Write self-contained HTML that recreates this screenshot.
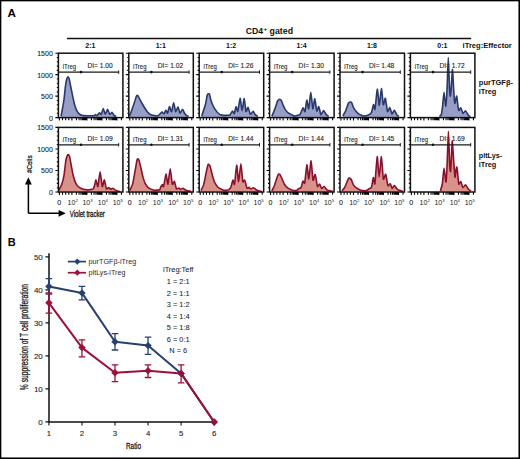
<!DOCTYPE html>
<html><head><meta charset="utf-8"><style>
html,body{margin:0;padding:0;background:#fff;width:520px;height:459px;overflow:hidden}
svg text{font-family:"Liberation Sans", sans-serif}
</style></head><body>
<svg width="520" height="459" viewBox="0 0 520 459" style="display:block" font-family='"Liberation Sans", sans-serif'>
<rect x="0" y="0" width="520" height="459" fill="#000"/>
<rect x="1.35" y="1.35" width="517.1" height="456.1" fill="#fff"/>
<text x="7.4" y="17.0" font-size="11.6" font-weight="bold" fill="#000">A</text>
<text x="7.7" y="246.4" font-size="11.0" font-weight="bold" fill="#000">B</text>
<text x="245.8" y="33.9" font-size="8.6" font-weight="bold" textLength="17.4" lengthAdjust="spacingAndGlyphs" fill="#111">CD4</text>
<text x="263.5" y="31.4" font-size="6.2" font-weight="bold" fill="#111">+</text>
<text x="269.6" y="33.9" font-size="8.6" font-weight="bold" textLength="23.4" lengthAdjust="spacingAndGlyphs" fill="#111">gated</text>
<line x1="67" y1="38.5" x2="471.2" y2="38.5" stroke="#111" stroke-width="1.3"/>
<text x="90.35" y="48.3" font-size="7.0" font-weight="bold" text-anchor="middle" fill="#111">2:1</text>
<text x="160.75" y="48.3" font-size="7.0" font-weight="bold" text-anchor="middle" fill="#111">1:1</text>
<text x="231.15" y="48.3" font-size="7.0" font-weight="bold" text-anchor="middle" fill="#111">1:2</text>
<text x="301.55" y="48.3" font-size="7.0" font-weight="bold" text-anchor="middle" fill="#111">1:4</text>
<text x="371.95" y="48.3" font-size="7.0" font-weight="bold" text-anchor="middle" fill="#111">1:8</text>
<text x="442.35" y="48.3" font-size="7.0" font-weight="bold" text-anchor="middle" fill="#111">0:1</text>
<text x="462.6" y="48.2" font-size="7.0" font-weight="bold" textLength="49.2" lengthAdjust="spacingAndGlyphs" fill="#111">iTreg:Effector</text>
<text x="478.8" y="84.5" font-size="7.2" font-weight="bold" textLength="34.2" lengthAdjust="spacingAndGlyphs" fill="#111">purTGFβ-</text>
<text x="478.8" y="94.1" font-size="7.2" font-weight="bold" textLength="17.5" lengthAdjust="spacingAndGlyphs" fill="#111">iTreg</text>
<text x="478.8" y="157.6" font-size="7.2" font-weight="bold" textLength="23.4" lengthAdjust="spacingAndGlyphs" fill="#111">pltLys-</text>
<text x="478.8" y="167.0" font-size="7.2" font-weight="bold" textLength="17.5" lengthAdjust="spacingAndGlyphs" fill="#111">iTreg</text>
<text x="62.7" y="68.6" font-size="6.3" textLength="13.4" lengthAdjust="spacingAndGlyphs" fill="#222" stroke="#222" stroke-width="0.1">iTreg</text>
<text x="87.4" y="68.3" font-size="6.3" textLength="25.3" lengthAdjust="spacingAndGlyphs" fill="#222" stroke="#222" stroke-width="0.1">DI= 1.00</text>
<path d="M61.00,116.40 C61.15,115.61 62.20,110.19 62.50,108.50 C62.80,106.81 63.71,101.70 64.00,99.50 C64.29,97.30 65.14,88.50 65.40,86.50 C65.66,84.50 66.35,80.46 66.60,79.50 C66.85,78.54 67.66,77.02 67.90,76.90 C68.14,76.78 68.73,77.39 69.00,78.30 C69.27,79.21 70.22,84.15 70.60,86.00 C70.98,87.85 72.36,94.80 72.80,96.80 C73.24,98.80 74.53,104.50 75.00,106.00 C75.47,107.50 76.95,110.92 77.50,111.80 C78.05,112.68 79.85,114.42 80.50,114.80 C81.15,115.18 82.63,115.52 84.00,115.60 C85.37,115.68 93.05,115.71 94.20,115.60 C95.35,115.49 95.21,114.50 95.50,114.50 C95.79,114.50 96.70,115.78 97.10,115.60 C97.50,115.42 99.09,112.81 99.50,112.70 C99.91,112.59 100.82,114.91 101.20,114.50 C101.58,114.09 102.90,108.62 103.30,108.60 C103.70,108.58 104.77,114.22 105.20,114.30 C105.63,114.38 107.14,109.40 107.60,109.40 C108.06,109.40 109.34,114.00 109.80,114.30 C110.26,114.60 111.77,112.27 112.20,112.40 C112.63,112.53 113.70,115.20 114.10,115.60 C114.50,116.00 115.99,116.32 116.20,116.40 L116.20,117.0 L61.00,117.0 Z" fill="#999ec6" stroke="none"/>
<path d="M61.00,116.40 C61.15,115.61 62.20,110.19 62.50,108.50 C62.80,106.81 63.71,101.70 64.00,99.50 C64.29,97.30 65.14,88.50 65.40,86.50 C65.66,84.50 66.35,80.46 66.60,79.50 C66.85,78.54 67.66,77.02 67.90,76.90 C68.14,76.78 68.73,77.39 69.00,78.30 C69.27,79.21 70.22,84.15 70.60,86.00 C70.98,87.85 72.36,94.80 72.80,96.80 C73.24,98.80 74.53,104.50 75.00,106.00 C75.47,107.50 76.95,110.92 77.50,111.80 C78.05,112.68 79.85,114.42 80.50,114.80 C81.15,115.18 82.63,115.52 84.00,115.60 C85.37,115.68 93.05,115.71 94.20,115.60 C95.35,115.49 95.21,114.50 95.50,114.50 C95.79,114.50 96.70,115.78 97.10,115.60 C97.50,115.42 99.09,112.81 99.50,112.70 C99.91,112.59 100.82,114.91 101.20,114.50 C101.58,114.09 102.90,108.62 103.30,108.60 C103.70,108.58 104.77,114.22 105.20,114.30 C105.63,114.38 107.14,109.40 107.60,109.40 C108.06,109.40 109.34,114.00 109.80,114.30 C110.26,114.60 111.77,112.27 112.20,112.40 C112.63,112.53 113.70,115.20 114.10,115.60 C114.50,116.00 115.99,116.32 116.20,116.40" fill="none" stroke="#28396a" stroke-width="1.6" stroke-linejoin="round"/>
<path d="M55.40,117.60H58.40 M56.80,113.31H58.40 M56.80,109.01H58.40 M56.80,104.72H58.40 M56.80,100.43H58.40 M55.40,96.13H58.40 M56.80,91.84H58.40 M56.80,87.55H58.40 M56.80,83.25H58.40 M56.80,78.96H58.40 M55.40,74.67H58.40 M56.80,70.37H58.40 M56.80,66.08H58.40 M56.80,61.79H58.40 M56.80,57.49H58.40 M55.40,53.20H58.40 M59.40,117.60V120.60 M71.90,117.60V120.60 M86.90,117.60V120.60 M101.90,117.60V120.60 M116.90,117.60V120.60 M62.52,117.60V120.30 M65.65,117.60V120.30 M68.78,117.60V120.30 M76.42,117.60V120.30 M79.06,117.60V120.30 M80.93,117.60V120.30 M82.38,117.60V120.30 M83.57,117.60V120.30 M84.58,117.60V120.30 M85.45,117.60V120.30 M86.21,117.60V120.30 M91.42,117.60V120.30 M94.06,117.60V120.30 M95.93,117.60V120.30 M97.38,117.60V120.30 M98.57,117.60V120.30 M99.58,117.60V120.30 M100.45,117.60V120.30 M101.21,117.60V120.30 M106.42,117.60V120.30 M109.06,117.60V120.30 M110.93,117.60V120.30 M112.38,117.60V120.30 M113.57,117.60V120.30 M114.58,117.60V120.30 M115.45,117.60V120.30 M116.21,117.60V120.30 M121.42,117.60V120.30" stroke="#000" stroke-width="1.1" fill="none"/>
<rect x="58.40" y="53.20" width="64.5" height="64.40" fill="none" stroke="#111" stroke-width="1.5"/>
<line x1="58.40" y1="72.1" x2="118.70" y2="72.1" stroke="#1a1a1a" stroke-width="1.25"/>
<line x1="118.70" y1="70.39999999999999" x2="118.70" y2="73.8" stroke="#1a1a1a" stroke-width="1.0"/>
<circle cx="81.00" cy="72.1" r="1.3" fill="#111"/>
<text x="133.1" y="68.6" font-size="6.3" textLength="13.4" lengthAdjust="spacingAndGlyphs" fill="#222" stroke="#222" stroke-width="0.1">iTreg</text>
<text x="157.8" y="68.3" font-size="6.3" textLength="25.3" lengthAdjust="spacingAndGlyphs" fill="#222" stroke="#222" stroke-width="0.1">DI= 1.02</text>
<path d="M129.60,116.00 C129.68,115.78 129.98,114.97 130.40,113.80 C130.82,112.63 133.20,106.06 133.80,104.30 C134.40,102.54 136.06,97.11 136.40,96.20 C136.74,95.29 137.02,95.20 137.20,95.20 C137.38,95.20 137.77,95.47 138.20,96.20 C138.63,96.93 140.75,101.17 141.50,102.50 C142.25,103.83 145.00,108.43 145.70,109.50 C146.40,110.57 147.83,112.62 148.50,113.20 C149.17,113.78 151.41,115.07 152.40,115.30 C153.39,115.53 157.57,115.71 158.40,115.50 C159.23,115.29 160.31,113.54 160.70,113.20 C161.09,112.86 161.98,112.04 162.30,112.10 C162.62,112.16 163.53,113.98 163.90,113.80 C164.27,113.62 165.64,110.36 166.00,110.30 C166.36,110.24 167.15,113.57 167.50,113.20 C167.85,112.83 169.10,106.76 169.50,106.60 C169.90,106.44 171.08,111.99 171.50,111.60 C171.92,111.21 173.29,102.70 173.70,102.70 C174.11,102.70 175.17,111.18 175.60,111.60 C176.03,112.02 177.56,106.74 178.00,106.90 C178.44,107.06 179.54,112.97 180.00,113.20 C180.46,113.43 182.15,109.20 182.60,109.20 C183.05,109.20 184.07,112.54 184.50,113.20 C184.93,113.86 186.50,115.50 186.90,115.80 C187.30,116.10 188.34,116.16 188.50,116.20 L188.50,117.0 L129.60,117.0 Z" fill="#999ec6" stroke="none"/>
<path d="M129.60,116.00 C129.68,115.78 129.98,114.97 130.40,113.80 C130.82,112.63 133.20,106.06 133.80,104.30 C134.40,102.54 136.06,97.11 136.40,96.20 C136.74,95.29 137.02,95.20 137.20,95.20 C137.38,95.20 137.77,95.47 138.20,96.20 C138.63,96.93 140.75,101.17 141.50,102.50 C142.25,103.83 145.00,108.43 145.70,109.50 C146.40,110.57 147.83,112.62 148.50,113.20 C149.17,113.78 151.41,115.07 152.40,115.30 C153.39,115.53 157.57,115.71 158.40,115.50 C159.23,115.29 160.31,113.54 160.70,113.20 C161.09,112.86 161.98,112.04 162.30,112.10 C162.62,112.16 163.53,113.98 163.90,113.80 C164.27,113.62 165.64,110.36 166.00,110.30 C166.36,110.24 167.15,113.57 167.50,113.20 C167.85,112.83 169.10,106.76 169.50,106.60 C169.90,106.44 171.08,111.99 171.50,111.60 C171.92,111.21 173.29,102.70 173.70,102.70 C174.11,102.70 175.17,111.18 175.60,111.60 C176.03,112.02 177.56,106.74 178.00,106.90 C178.44,107.06 179.54,112.97 180.00,113.20 C180.46,113.43 182.15,109.20 182.60,109.20 C183.05,109.20 184.07,112.54 184.50,113.20 C184.93,113.86 186.50,115.50 186.90,115.80 C187.30,116.10 188.34,116.16 188.50,116.20" fill="none" stroke="#28396a" stroke-width="1.6" stroke-linejoin="round"/>
<path d="M125.80,117.60H128.80 M127.20,113.31H128.80 M127.20,109.01H128.80 M127.20,104.72H128.80 M127.20,100.43H128.80 M125.80,96.13H128.80 M127.20,91.84H128.80 M127.20,87.55H128.80 M127.20,83.25H128.80 M127.20,78.96H128.80 M125.80,74.67H128.80 M127.20,70.37H128.80 M127.20,66.08H128.80 M127.20,61.79H128.80 M127.20,57.49H128.80 M125.80,53.20H128.80 M129.80,117.60V120.60 M142.30,117.60V120.60 M157.30,117.60V120.60 M172.30,117.60V120.60 M187.30,117.60V120.60 M132.93,117.60V120.30 M136.05,117.60V120.30 M139.18,117.60V120.30 M146.82,117.60V120.30 M149.46,117.60V120.30 M151.33,117.60V120.30 M152.78,117.60V120.30 M153.97,117.60V120.30 M154.98,117.60V120.30 M155.85,117.60V120.30 M156.61,117.60V120.30 M161.82,117.60V120.30 M164.46,117.60V120.30 M166.33,117.60V120.30 M167.78,117.60V120.30 M168.97,117.60V120.30 M169.98,117.60V120.30 M170.85,117.60V120.30 M171.61,117.60V120.30 M176.82,117.60V120.30 M179.46,117.60V120.30 M181.33,117.60V120.30 M182.78,117.60V120.30 M183.97,117.60V120.30 M184.98,117.60V120.30 M185.85,117.60V120.30 M186.61,117.60V120.30 M191.82,117.60V120.30" stroke="#000" stroke-width="1.1" fill="none"/>
<rect x="128.80" y="53.20" width="64.5" height="64.40" fill="none" stroke="#111" stroke-width="1.5"/>
<line x1="128.80" y1="72.1" x2="189.10" y2="72.1" stroke="#1a1a1a" stroke-width="1.25"/>
<line x1="189.10" y1="70.39999999999999" x2="189.10" y2="73.8" stroke="#1a1a1a" stroke-width="1.0"/>
<circle cx="151.40" cy="72.1" r="1.3" fill="#111"/>
<text x="203.5" y="68.6" font-size="6.3" textLength="13.4" lengthAdjust="spacingAndGlyphs" fill="#222" stroke="#222" stroke-width="0.1">iTreg</text>
<text x="228.2" y="68.3" font-size="6.3" textLength="25.3" lengthAdjust="spacingAndGlyphs" fill="#222" stroke="#222" stroke-width="0.1">DI= 1.26</text>
<path d="M201.60,116.20 C201.63,116.13 201.51,116.69 201.90,115.50 C202.29,114.31 204.97,106.33 205.50,104.30 C206.03,102.27 206.93,96.25 207.20,95.20 C207.47,94.15 207.97,93.90 208.20,93.80 C208.43,93.70 209.24,93.60 209.50,94.20 C209.76,94.80 210.48,98.72 210.80,99.80 C211.12,100.88 212.25,104.02 212.70,105.00 C213.15,105.98 214.71,108.75 215.30,109.60 C215.89,110.45 217.94,112.95 218.60,113.50 C219.26,114.05 220.98,114.92 221.90,115.10 C222.82,115.28 226.99,115.32 227.80,115.30 C228.61,115.28 229.53,115.33 230.00,114.90 C230.47,114.47 232.07,111.14 232.50,111.00 C232.93,110.86 233.95,113.93 234.30,113.50 C234.65,113.07 235.65,106.91 236.00,106.70 C236.35,106.49 237.39,112.25 237.80,111.40 C238.21,110.55 239.67,98.28 240.10,98.20 C240.53,98.12 241.69,110.57 242.10,110.60 C242.51,110.63 243.81,98.42 244.20,98.50 C244.59,98.58 245.61,110.51 246.00,111.40 C246.39,112.29 247.67,107.12 248.10,107.40 C248.53,107.68 249.80,113.80 250.30,114.20 C250.80,114.60 252.61,111.36 253.10,111.40 C253.59,111.44 254.74,114.11 255.20,114.60 C255.66,115.09 257.45,116.13 257.70,116.30 L257.70,117.0 L201.60,117.0 Z" fill="#999ec6" stroke="none"/>
<path d="M201.60,116.20 C201.63,116.13 201.51,116.69 201.90,115.50 C202.29,114.31 204.97,106.33 205.50,104.30 C206.03,102.27 206.93,96.25 207.20,95.20 C207.47,94.15 207.97,93.90 208.20,93.80 C208.43,93.70 209.24,93.60 209.50,94.20 C209.76,94.80 210.48,98.72 210.80,99.80 C211.12,100.88 212.25,104.02 212.70,105.00 C213.15,105.98 214.71,108.75 215.30,109.60 C215.89,110.45 217.94,112.95 218.60,113.50 C219.26,114.05 220.98,114.92 221.90,115.10 C222.82,115.28 226.99,115.32 227.80,115.30 C228.61,115.28 229.53,115.33 230.00,114.90 C230.47,114.47 232.07,111.14 232.50,111.00 C232.93,110.86 233.95,113.93 234.30,113.50 C234.65,113.07 235.65,106.91 236.00,106.70 C236.35,106.49 237.39,112.25 237.80,111.40 C238.21,110.55 239.67,98.28 240.10,98.20 C240.53,98.12 241.69,110.57 242.10,110.60 C242.51,110.63 243.81,98.42 244.20,98.50 C244.59,98.58 245.61,110.51 246.00,111.40 C246.39,112.29 247.67,107.12 248.10,107.40 C248.53,107.68 249.80,113.80 250.30,114.20 C250.80,114.60 252.61,111.36 253.10,111.40 C253.59,111.44 254.74,114.11 255.20,114.60 C255.66,115.09 257.45,116.13 257.70,116.30" fill="none" stroke="#28396a" stroke-width="1.6" stroke-linejoin="round"/>
<path d="M196.20,117.60H199.20 M197.60,113.31H199.20 M197.60,109.01H199.20 M197.60,104.72H199.20 M197.60,100.43H199.20 M196.20,96.13H199.20 M197.60,91.84H199.20 M197.60,87.55H199.20 M197.60,83.25H199.20 M197.60,78.96H199.20 M196.20,74.67H199.20 M197.60,70.37H199.20 M197.60,66.08H199.20 M197.60,61.79H199.20 M197.60,57.49H199.20 M196.20,53.20H199.20 M200.20,117.60V120.60 M212.70,117.60V120.60 M227.70,117.60V120.60 M242.70,117.60V120.60 M257.70,117.60V120.60 M203.33,117.60V120.30 M206.45,117.60V120.30 M209.58,117.60V120.30 M217.22,117.60V120.30 M219.86,117.60V120.30 M221.73,117.60V120.30 M223.18,117.60V120.30 M224.37,117.60V120.30 M225.38,117.60V120.30 M226.25,117.60V120.30 M227.01,117.60V120.30 M232.22,117.60V120.30 M234.86,117.60V120.30 M236.73,117.60V120.30 M238.18,117.60V120.30 M239.37,117.60V120.30 M240.38,117.60V120.30 M241.25,117.60V120.30 M242.01,117.60V120.30 M247.22,117.60V120.30 M249.86,117.60V120.30 M251.73,117.60V120.30 M253.18,117.60V120.30 M254.37,117.60V120.30 M255.38,117.60V120.30 M256.25,117.60V120.30 M257.01,117.60V120.30 M262.22,117.60V120.30" stroke="#000" stroke-width="1.1" fill="none"/>
<rect x="199.20" y="53.20" width="64.5" height="64.40" fill="none" stroke="#111" stroke-width="1.5"/>
<line x1="199.20" y1="72.1" x2="259.50" y2="72.1" stroke="#1a1a1a" stroke-width="1.25"/>
<line x1="259.50" y1="70.39999999999999" x2="259.50" y2="73.8" stroke="#1a1a1a" stroke-width="1.0"/>
<circle cx="221.80" cy="72.1" r="1.3" fill="#111"/>
<text x="273.9" y="68.6" font-size="6.3" textLength="13.4" lengthAdjust="spacingAndGlyphs" fill="#222" stroke="#222" stroke-width="0.1">iTreg</text>
<text x="298.6" y="68.3" font-size="6.3" textLength="25.3" lengthAdjust="spacingAndGlyphs" fill="#222" stroke="#222" stroke-width="0.1">DI= 1.30</text>
<path d="M271.90,116.20 C272.20,115.47 274.34,110.41 274.90,108.90 C275.46,107.39 277.07,102.05 277.50,101.10 C277.93,100.15 278.93,99.57 279.20,99.40 C279.47,99.23 279.98,99.27 280.20,99.40 C280.42,99.53 281.11,100.14 281.40,100.70 C281.69,101.26 282.71,104.11 283.10,105.00 C283.49,105.89 284.75,108.78 285.30,109.60 C285.85,110.42 287.88,112.65 288.60,113.20 C289.32,113.75 291.94,114.82 292.50,115.10 C293.06,115.38 293.65,115.98 294.20,116.00 C294.75,116.02 297.40,115.48 298.00,115.30 C298.60,115.12 299.70,114.94 300.20,114.20 C300.70,113.46 302.52,108.16 303.00,107.90 C303.48,107.64 304.62,112.37 305.00,111.60 C305.38,110.83 306.43,100.49 306.80,100.20 C307.17,99.91 308.30,109.48 308.70,108.70 C309.10,107.92 310.39,92.40 310.80,92.40 C311.21,92.40 312.40,108.07 312.80,108.70 C313.20,109.33 314.40,98.48 314.80,98.70 C315.20,98.92 316.40,110.12 316.80,110.90 C317.20,111.68 318.39,106.13 318.80,106.50 C319.21,106.87 320.41,114.20 320.90,114.60 C321.39,115.00 323.18,110.50 323.70,110.50 C324.22,110.50 325.60,114.02 326.10,114.60 C326.60,115.18 328.44,116.13 328.70,116.30 L328.70,117.0 L271.90,117.0 Z" fill="#999ec6" stroke="none"/>
<path d="M271.90,116.20 C272.20,115.47 274.34,110.41 274.90,108.90 C275.46,107.39 277.07,102.05 277.50,101.10 C277.93,100.15 278.93,99.57 279.20,99.40 C279.47,99.23 279.98,99.27 280.20,99.40 C280.42,99.53 281.11,100.14 281.40,100.70 C281.69,101.26 282.71,104.11 283.10,105.00 C283.49,105.89 284.75,108.78 285.30,109.60 C285.85,110.42 287.88,112.65 288.60,113.20 C289.32,113.75 291.94,114.82 292.50,115.10 C293.06,115.38 293.65,115.98 294.20,116.00 C294.75,116.02 297.40,115.48 298.00,115.30 C298.60,115.12 299.70,114.94 300.20,114.20 C300.70,113.46 302.52,108.16 303.00,107.90 C303.48,107.64 304.62,112.37 305.00,111.60 C305.38,110.83 306.43,100.49 306.80,100.20 C307.17,99.91 308.30,109.48 308.70,108.70 C309.10,107.92 310.39,92.40 310.80,92.40 C311.21,92.40 312.40,108.07 312.80,108.70 C313.20,109.33 314.40,98.48 314.80,98.70 C315.20,98.92 316.40,110.12 316.80,110.90 C317.20,111.68 318.39,106.13 318.80,106.50 C319.21,106.87 320.41,114.20 320.90,114.60 C321.39,115.00 323.18,110.50 323.70,110.50 C324.22,110.50 325.60,114.02 326.10,114.60 C326.60,115.18 328.44,116.13 328.70,116.30" fill="none" stroke="#28396a" stroke-width="1.6" stroke-linejoin="round"/>
<path d="M266.60,117.60H269.60 M268.00,113.31H269.60 M268.00,109.01H269.60 M268.00,104.72H269.60 M268.00,100.43H269.60 M266.60,96.13H269.60 M268.00,91.84H269.60 M268.00,87.55H269.60 M268.00,83.25H269.60 M268.00,78.96H269.60 M266.60,74.67H269.60 M268.00,70.37H269.60 M268.00,66.08H269.60 M268.00,61.79H269.60 M268.00,57.49H269.60 M266.60,53.20H269.60 M270.60,117.60V120.60 M283.10,117.60V120.60 M298.10,117.60V120.60 M313.10,117.60V120.60 M328.10,117.60V120.60 M273.73,117.60V120.30 M276.85,117.60V120.30 M279.98,117.60V120.30 M287.62,117.60V120.30 M290.26,117.60V120.30 M292.13,117.60V120.30 M293.58,117.60V120.30 M294.77,117.60V120.30 M295.78,117.60V120.30 M296.65,117.60V120.30 M297.41,117.60V120.30 M302.62,117.60V120.30 M305.26,117.60V120.30 M307.13,117.60V120.30 M308.58,117.60V120.30 M309.77,117.60V120.30 M310.78,117.60V120.30 M311.65,117.60V120.30 M312.41,117.60V120.30 M317.62,117.60V120.30 M320.26,117.60V120.30 M322.13,117.60V120.30 M323.58,117.60V120.30 M324.77,117.60V120.30 M325.78,117.60V120.30 M326.65,117.60V120.30 M327.41,117.60V120.30 M332.62,117.60V120.30" stroke="#000" stroke-width="1.1" fill="none"/>
<rect x="269.60" y="53.20" width="64.5" height="64.40" fill="none" stroke="#111" stroke-width="1.5"/>
<line x1="269.60" y1="72.1" x2="329.90" y2="72.1" stroke="#1a1a1a" stroke-width="1.25"/>
<line x1="329.90" y1="70.39999999999999" x2="329.90" y2="73.8" stroke="#1a1a1a" stroke-width="1.0"/>
<circle cx="292.20" cy="72.1" r="1.3" fill="#111"/>
<text x="344.3" y="68.6" font-size="6.3" textLength="13.4" lengthAdjust="spacingAndGlyphs" fill="#222" stroke="#222" stroke-width="0.1">iTreg</text>
<text x="369.0" y="68.3" font-size="6.3" textLength="25.3" lengthAdjust="spacingAndGlyphs" fill="#222" stroke="#222" stroke-width="0.1">DI= 1.48</text>
<path d="M342.90,116.00 C343.20,115.42 345.37,111.43 345.90,110.20 C346.43,108.97 347.83,104.51 348.20,103.70 C348.57,102.89 349.36,102.26 349.60,102.10 C349.84,101.94 350.38,102.01 350.60,102.10 C350.82,102.19 351.52,102.48 351.80,103.00 C352.08,103.52 352.98,106.48 353.40,107.30 C353.82,108.12 355.44,110.52 356.00,111.20 C356.56,111.88 358.38,113.67 359.00,114.10 C359.62,114.53 361.75,115.31 362.20,115.50 C362.65,115.69 362.88,116.06 363.50,116.00 C364.12,115.94 367.61,115.23 368.40,114.90 C369.19,114.57 370.89,113.72 371.40,112.70 C371.91,111.68 373.14,105.04 373.50,104.70 C373.86,104.36 374.62,110.85 375.00,109.30 C375.38,107.75 376.87,89.58 377.30,89.20 C377.73,88.82 378.89,105.57 379.30,105.50 C379.71,105.43 381.00,88.58 381.40,88.50 C381.80,88.42 382.90,103.72 383.30,104.70 C383.70,105.68 384.98,97.62 385.40,98.30 C385.82,98.98 387.06,110.57 387.50,111.50 C387.94,112.43 389.35,107.35 389.80,107.60 C390.25,107.85 391.55,113.72 392.00,114.00 C392.45,114.28 393.81,110.31 394.30,110.40 C394.79,110.49 396.43,114.31 396.90,114.90 C397.37,115.49 398.79,116.16 399.00,116.30 L399.00,117.0 L342.90,117.0 Z" fill="#999ec6" stroke="none"/>
<path d="M342.90,116.00 C343.20,115.42 345.37,111.43 345.90,110.20 C346.43,108.97 347.83,104.51 348.20,103.70 C348.57,102.89 349.36,102.26 349.60,102.10 C349.84,101.94 350.38,102.01 350.60,102.10 C350.82,102.19 351.52,102.48 351.80,103.00 C352.08,103.52 352.98,106.48 353.40,107.30 C353.82,108.12 355.44,110.52 356.00,111.20 C356.56,111.88 358.38,113.67 359.00,114.10 C359.62,114.53 361.75,115.31 362.20,115.50 C362.65,115.69 362.88,116.06 363.50,116.00 C364.12,115.94 367.61,115.23 368.40,114.90 C369.19,114.57 370.89,113.72 371.40,112.70 C371.91,111.68 373.14,105.04 373.50,104.70 C373.86,104.36 374.62,110.85 375.00,109.30 C375.38,107.75 376.87,89.58 377.30,89.20 C377.73,88.82 378.89,105.57 379.30,105.50 C379.71,105.43 381.00,88.58 381.40,88.50 C381.80,88.42 382.90,103.72 383.30,104.70 C383.70,105.68 384.98,97.62 385.40,98.30 C385.82,98.98 387.06,110.57 387.50,111.50 C387.94,112.43 389.35,107.35 389.80,107.60 C390.25,107.85 391.55,113.72 392.00,114.00 C392.45,114.28 393.81,110.31 394.30,110.40 C394.79,110.49 396.43,114.31 396.90,114.90 C397.37,115.49 398.79,116.16 399.00,116.30" fill="none" stroke="#28396a" stroke-width="1.6" stroke-linejoin="round"/>
<path d="M337.00,117.60H340.00 M338.40,113.31H340.00 M338.40,109.01H340.00 M338.40,104.72H340.00 M338.40,100.43H340.00 M337.00,96.13H340.00 M338.40,91.84H340.00 M338.40,87.55H340.00 M338.40,83.25H340.00 M338.40,78.96H340.00 M337.00,74.67H340.00 M338.40,70.37H340.00 M338.40,66.08H340.00 M338.40,61.79H340.00 M338.40,57.49H340.00 M337.00,53.20H340.00 M341.00,117.60V120.60 M353.50,117.60V120.60 M368.50,117.60V120.60 M383.50,117.60V120.60 M398.50,117.60V120.60 M344.12,117.60V120.30 M347.25,117.60V120.30 M350.38,117.60V120.30 M358.02,117.60V120.30 M360.66,117.60V120.30 M362.53,117.60V120.30 M363.98,117.60V120.30 M365.17,117.60V120.30 M366.18,117.60V120.30 M367.05,117.60V120.30 M367.81,117.60V120.30 M373.02,117.60V120.30 M375.66,117.60V120.30 M377.53,117.60V120.30 M378.98,117.60V120.30 M380.17,117.60V120.30 M381.18,117.60V120.30 M382.05,117.60V120.30 M382.81,117.60V120.30 M388.02,117.60V120.30 M390.66,117.60V120.30 M392.53,117.60V120.30 M393.98,117.60V120.30 M395.17,117.60V120.30 M396.18,117.60V120.30 M397.05,117.60V120.30 M397.81,117.60V120.30 M403.02,117.60V120.30" stroke="#000" stroke-width="1.1" fill="none"/>
<rect x="340.00" y="53.20" width="64.5" height="64.40" fill="none" stroke="#111" stroke-width="1.5"/>
<line x1="340.00" y1="72.1" x2="400.30" y2="72.1" stroke="#1a1a1a" stroke-width="1.25"/>
<line x1="400.30" y1="70.39999999999999" x2="400.30" y2="73.8" stroke="#1a1a1a" stroke-width="1.0"/>
<circle cx="362.60" cy="72.1" r="1.3" fill="#111"/>
<text x="414.7" y="68.6" font-size="6.3" textLength="13.4" lengthAdjust="spacingAndGlyphs" fill="#222" stroke="#222" stroke-width="0.1">iTreg</text>
<text x="439.4" y="68.3" font-size="6.3" textLength="25.3" lengthAdjust="spacingAndGlyphs" fill="#222" stroke="#222" stroke-width="0.1">DI= 1.72</text>
<path d="M439.50,116.60 C439.70,116.34 441.19,115.06 441.50,114.00 C441.81,112.94 442.35,108.18 442.60,106.00 C442.85,103.82 443.68,92.18 444.00,92.20 C444.32,92.22 445.50,106.42 445.80,106.20 C446.10,105.98 446.75,94.87 447.00,90.00 C447.25,85.13 448.04,57.50 448.30,57.50 C448.56,57.50 449.39,86.14 449.60,90.00 C449.81,93.86 450.22,96.60 450.40,96.10 C450.58,95.60 451.19,87.66 451.40,85.00 C451.61,82.34 452.28,69.20 452.50,69.50 C452.72,69.80 453.38,84.64 453.60,88.00 C453.82,91.36 454.49,101.90 454.70,103.10 C454.91,104.30 455.50,100.70 455.70,100.00 C455.90,99.30 456.50,95.70 456.70,96.10 C456.90,96.50 457.50,102.56 457.70,104.00 C457.90,105.44 458.39,110.11 458.70,110.50 C459.01,110.89 460.37,107.59 460.80,107.90 C461.23,108.21 462.53,113.32 463.00,113.60 C463.47,113.88 464.97,110.53 465.50,110.70 C466.03,110.87 467.81,114.71 468.30,115.30 C468.79,115.89 470.19,116.47 470.40,116.60 L470.40,117.0 L439.50,117.0 Z" fill="#999ec6" stroke="none"/>
<path d="M439.50,116.60 C439.70,116.34 441.19,115.06 441.50,114.00 C441.81,112.94 442.35,108.18 442.60,106.00 C442.85,103.82 443.68,92.18 444.00,92.20 C444.32,92.22 445.50,106.42 445.80,106.20 C446.10,105.98 446.75,94.87 447.00,90.00 C447.25,85.13 448.04,57.50 448.30,57.50 C448.56,57.50 449.39,86.14 449.60,90.00 C449.81,93.86 450.22,96.60 450.40,96.10 C450.58,95.60 451.19,87.66 451.40,85.00 C451.61,82.34 452.28,69.20 452.50,69.50 C452.72,69.80 453.38,84.64 453.60,88.00 C453.82,91.36 454.49,101.90 454.70,103.10 C454.91,104.30 455.50,100.70 455.70,100.00 C455.90,99.30 456.50,95.70 456.70,96.10 C456.90,96.50 457.50,102.56 457.70,104.00 C457.90,105.44 458.39,110.11 458.70,110.50 C459.01,110.89 460.37,107.59 460.80,107.90 C461.23,108.21 462.53,113.32 463.00,113.60 C463.47,113.88 464.97,110.53 465.50,110.70 C466.03,110.87 467.81,114.71 468.30,115.30 C468.79,115.89 470.19,116.47 470.40,116.60" fill="none" stroke="#28396a" stroke-width="1.6" stroke-linejoin="round"/>
<path d="M407.40,117.60H410.40 M408.80,113.31H410.40 M408.80,109.01H410.40 M408.80,104.72H410.40 M408.80,100.43H410.40 M407.40,96.13H410.40 M408.80,91.84H410.40 M408.80,87.55H410.40 M408.80,83.25H410.40 M408.80,78.96H410.40 M407.40,74.67H410.40 M408.80,70.37H410.40 M408.80,66.08H410.40 M408.80,61.79H410.40 M408.80,57.49H410.40 M407.40,53.20H410.40 M411.40,117.60V120.60 M423.90,117.60V120.60 M438.90,117.60V120.60 M453.90,117.60V120.60 M468.90,117.60V120.60 M414.52,117.60V120.30 M417.65,117.60V120.30 M420.77,117.60V120.30 M428.42,117.60V120.30 M431.06,117.60V120.30 M432.93,117.60V120.30 M434.38,117.60V120.30 M435.57,117.60V120.30 M436.58,117.60V120.30 M437.45,117.60V120.30 M438.21,117.60V120.30 M443.42,117.60V120.30 M446.06,117.60V120.30 M447.93,117.60V120.30 M449.38,117.60V120.30 M450.57,117.60V120.30 M451.58,117.60V120.30 M452.45,117.60V120.30 M453.21,117.60V120.30 M458.42,117.60V120.30 M461.06,117.60V120.30 M462.93,117.60V120.30 M464.38,117.60V120.30 M465.57,117.60V120.30 M466.58,117.60V120.30 M467.45,117.60V120.30 M468.21,117.60V120.30 M473.42,117.60V120.30" stroke="#000" stroke-width="1.1" fill="none"/>
<rect x="410.40" y="53.20" width="64.5" height="64.40" fill="none" stroke="#111" stroke-width="1.5"/>
<line x1="410.40" y1="72.1" x2="470.70" y2="72.1" stroke="#1a1a1a" stroke-width="1.25"/>
<line x1="470.70" y1="70.39999999999999" x2="470.70" y2="73.8" stroke="#1a1a1a" stroke-width="1.0"/>
<circle cx="433.00" cy="72.1" r="1.3" fill="#111"/>
<text x="62.7" y="141.6" font-size="6.3" textLength="13.4" lengthAdjust="spacingAndGlyphs" fill="#222" stroke="#222" stroke-width="0.1">iTreg</text>
<text x="87.4" y="141.29999999999998" font-size="6.3" textLength="25.3" lengthAdjust="spacingAndGlyphs" fill="#222" stroke="#222" stroke-width="0.1">DI= 1.09</text>
<path d="M59.00,190.60 C59.03,190.47 59.03,189.90 59.30,189.30 C59.57,188.70 61.23,186.00 61.70,184.60 C62.17,183.20 63.58,177.73 64.00,175.30 C64.42,172.87 65.57,162.27 65.90,160.30 C66.23,158.33 67.05,156.16 67.30,155.60 C67.55,155.04 68.17,154.60 68.40,154.70 C68.63,154.80 69.34,155.67 69.60,156.60 C69.86,157.53 70.67,162.23 71.00,164.00 C71.33,165.77 72.52,172.61 72.90,174.30 C73.28,175.99 74.38,179.77 74.80,180.90 C75.22,182.03 76.45,184.85 77.10,185.60 C77.75,186.35 80.22,187.97 81.30,188.40 C82.38,188.83 86.91,189.80 87.90,189.90 C88.89,190.00 90.66,189.52 91.20,189.40 C91.74,189.28 92.95,189.13 93.30,188.70 C93.65,188.27 94.43,185.98 94.70,185.10 C94.97,184.22 95.68,179.76 96.00,179.90 C96.32,180.04 97.49,187.30 97.90,186.50 C98.31,185.70 99.66,171.90 100.10,171.90 C100.54,171.90 101.87,185.70 102.30,186.50 C102.73,187.30 103.99,179.66 104.40,179.90 C104.81,180.14 105.97,188.14 106.40,188.90 C106.83,189.66 108.28,187.47 108.70,187.50 C109.12,187.53 110.20,189.13 110.60,189.20 C111.00,189.27 112.25,188.13 112.70,188.20 C113.15,188.27 114.52,189.59 115.10,189.90 C115.68,190.21 118.00,191.14 118.50,191.30 C119.00,191.46 119.94,191.48 120.10,191.50 L120.10,191.4 L59.00,191.4 Z" fill="#d9928a" stroke="none"/>
<path d="M59.00,190.60 C59.03,190.47 59.03,189.90 59.30,189.30 C59.57,188.70 61.23,186.00 61.70,184.60 C62.17,183.20 63.58,177.73 64.00,175.30 C64.42,172.87 65.57,162.27 65.90,160.30 C66.23,158.33 67.05,156.16 67.30,155.60 C67.55,155.04 68.17,154.60 68.40,154.70 C68.63,154.80 69.34,155.67 69.60,156.60 C69.86,157.53 70.67,162.23 71.00,164.00 C71.33,165.77 72.52,172.61 72.90,174.30 C73.28,175.99 74.38,179.77 74.80,180.90 C75.22,182.03 76.45,184.85 77.10,185.60 C77.75,186.35 80.22,187.97 81.30,188.40 C82.38,188.83 86.91,189.80 87.90,189.90 C88.89,190.00 90.66,189.52 91.20,189.40 C91.74,189.28 92.95,189.13 93.30,188.70 C93.65,188.27 94.43,185.98 94.70,185.10 C94.97,184.22 95.68,179.76 96.00,179.90 C96.32,180.04 97.49,187.30 97.90,186.50 C98.31,185.70 99.66,171.90 100.10,171.90 C100.54,171.90 101.87,185.70 102.30,186.50 C102.73,187.30 103.99,179.66 104.40,179.90 C104.81,180.14 105.97,188.14 106.40,188.90 C106.83,189.66 108.28,187.47 108.70,187.50 C109.12,187.53 110.20,189.13 110.60,189.20 C111.00,189.27 112.25,188.13 112.70,188.20 C113.15,188.27 114.52,189.59 115.10,189.90 C115.68,190.21 118.00,191.14 118.50,191.30 C119.00,191.46 119.94,191.48 120.10,191.50" fill="none" stroke="#8a112d" stroke-width="1.6" stroke-linejoin="round"/>
<path d="M55.40,192.00H58.40 M56.80,187.69H58.40 M56.80,183.39H58.40 M56.80,179.08H58.40 M56.80,174.77H58.40 M55.40,170.47H58.40 M56.80,166.16H58.40 M56.80,161.85H58.40 M56.80,157.55H58.40 M56.80,153.24H58.40 M55.40,148.93H58.40 M56.80,144.63H58.40 M56.80,140.32H58.40 M56.80,136.01H58.40 M56.80,131.71H58.40 M55.40,127.40H58.40 M59.40,192.00V195.00 M71.90,192.00V195.00 M86.90,192.00V195.00 M101.90,192.00V195.00 M116.90,192.00V195.00 M62.52,192.00V194.70 M65.65,192.00V194.70 M68.78,192.00V194.70 M76.42,192.00V194.70 M79.06,192.00V194.70 M80.93,192.00V194.70 M82.38,192.00V194.70 M83.57,192.00V194.70 M84.58,192.00V194.70 M85.45,192.00V194.70 M86.21,192.00V194.70 M91.42,192.00V194.70 M94.06,192.00V194.70 M95.93,192.00V194.70 M97.38,192.00V194.70 M98.57,192.00V194.70 M99.58,192.00V194.70 M100.45,192.00V194.70 M101.21,192.00V194.70 M106.42,192.00V194.70 M109.06,192.00V194.70 M110.93,192.00V194.70 M112.38,192.00V194.70 M113.57,192.00V194.70 M114.58,192.00V194.70 M115.45,192.00V194.70 M116.21,192.00V194.70 M121.42,192.00V194.70" stroke="#000" stroke-width="1.1" fill="none"/>
<rect x="58.40" y="127.40" width="64.5" height="64.60" fill="none" stroke="#111" stroke-width="1.5"/>
<line x1="58.40" y1="144.8" x2="118.70" y2="144.8" stroke="#1a1a1a" stroke-width="1.25"/>
<line x1="118.70" y1="143.10000000000002" x2="118.70" y2="146.5" stroke="#1a1a1a" stroke-width="1.0"/>
<circle cx="81.00" cy="144.8" r="1.3" fill="#111"/>
<text x="59.3" y="204.6" font-size="7.0" text-anchor="middle" fill="#222" stroke="#222" stroke-width="0.1">0</text>
<text x="67.60" y="204.6" font-size="7.0" fill="#222">10<tspan font-size="4.4" dy="-2.8">2</tspan></text>
<text x="82.40" y="204.6" font-size="7.0" fill="#222">10<tspan font-size="4.4" dy="-2.8">3</tspan></text>
<text x="97.80" y="204.6" font-size="7.0" fill="#222">10<tspan font-size="4.4" dy="-2.8">4</tspan></text>
<text x="112.70" y="204.6" font-size="7.0" fill="#222">10<tspan font-size="4.4" dy="-2.8">5</tspan></text>
<text x="133.1" y="141.6" font-size="6.3" textLength="13.4" lengthAdjust="spacingAndGlyphs" fill="#222" stroke="#222" stroke-width="0.1">iTreg</text>
<text x="157.8" y="141.29999999999998" font-size="6.3" textLength="25.3" lengthAdjust="spacingAndGlyphs" fill="#222" stroke="#222" stroke-width="0.1">DI= 1.31</text>
<path d="M129.90,190.60 C129.94,190.47 130.02,189.99 130.30,189.30 C130.58,188.61 132.23,185.48 132.70,183.70 C133.17,181.92 134.58,173.84 135.00,171.50 C135.42,169.16 136.62,161.56 136.90,160.30 C137.18,159.04 137.59,158.90 137.80,158.90 C138.01,158.90 138.67,159.32 139.00,160.30 C139.33,161.28 140.70,167.02 141.10,168.70 C141.50,170.38 142.58,175.60 143.00,177.10 C143.42,178.60 144.74,182.62 145.30,183.70 C145.86,184.78 147.71,187.25 148.60,187.90 C149.49,188.55 153.32,189.98 154.20,190.20 C155.08,190.42 156.84,190.15 157.40,190.10 C157.96,190.05 159.46,190.02 159.80,189.70 C160.14,189.38 160.54,187.42 160.80,186.90 C161.06,186.38 162.12,184.53 162.40,184.50 C162.68,184.47 163.24,187.64 163.60,186.60 C163.96,185.56 165.57,174.34 166.00,174.10 C166.43,173.86 167.48,184.72 167.90,184.20 C168.32,183.68 169.76,168.90 170.20,168.90 C170.64,168.90 171.88,182.95 172.30,184.20 C172.72,185.45 173.99,180.95 174.40,181.40 C174.81,181.85 175.95,188.04 176.40,188.70 C176.85,189.36 178.48,187.93 178.90,188.00 C179.32,188.07 180.19,189.38 180.60,189.40 C181.01,189.42 182.52,188.14 183.00,188.20 C183.48,188.26 184.78,189.71 185.40,190.00 C186.02,190.29 188.63,190.96 189.20,191.10 C189.77,191.24 190.91,191.37 191.10,191.40 L191.10,191.4 L129.90,191.4 Z" fill="#d9928a" stroke="none"/>
<path d="M129.90,190.60 C129.94,190.47 130.02,189.99 130.30,189.30 C130.58,188.61 132.23,185.48 132.70,183.70 C133.17,181.92 134.58,173.84 135.00,171.50 C135.42,169.16 136.62,161.56 136.90,160.30 C137.18,159.04 137.59,158.90 137.80,158.90 C138.01,158.90 138.67,159.32 139.00,160.30 C139.33,161.28 140.70,167.02 141.10,168.70 C141.50,170.38 142.58,175.60 143.00,177.10 C143.42,178.60 144.74,182.62 145.30,183.70 C145.86,184.78 147.71,187.25 148.60,187.90 C149.49,188.55 153.32,189.98 154.20,190.20 C155.08,190.42 156.84,190.15 157.40,190.10 C157.96,190.05 159.46,190.02 159.80,189.70 C160.14,189.38 160.54,187.42 160.80,186.90 C161.06,186.38 162.12,184.53 162.40,184.50 C162.68,184.47 163.24,187.64 163.60,186.60 C163.96,185.56 165.57,174.34 166.00,174.10 C166.43,173.86 167.48,184.72 167.90,184.20 C168.32,183.68 169.76,168.90 170.20,168.90 C170.64,168.90 171.88,182.95 172.30,184.20 C172.72,185.45 173.99,180.95 174.40,181.40 C174.81,181.85 175.95,188.04 176.40,188.70 C176.85,189.36 178.48,187.93 178.90,188.00 C179.32,188.07 180.19,189.38 180.60,189.40 C181.01,189.42 182.52,188.14 183.00,188.20 C183.48,188.26 184.78,189.71 185.40,190.00 C186.02,190.29 188.63,190.96 189.20,191.10 C189.77,191.24 190.91,191.37 191.10,191.40" fill="none" stroke="#8a112d" stroke-width="1.6" stroke-linejoin="round"/>
<path d="M125.80,192.00H128.80 M127.20,187.69H128.80 M127.20,183.39H128.80 M127.20,179.08H128.80 M127.20,174.77H128.80 M125.80,170.47H128.80 M127.20,166.16H128.80 M127.20,161.85H128.80 M127.20,157.55H128.80 M127.20,153.24H128.80 M125.80,148.93H128.80 M127.20,144.63H128.80 M127.20,140.32H128.80 M127.20,136.01H128.80 M127.20,131.71H128.80 M125.80,127.40H128.80 M129.80,192.00V195.00 M142.30,192.00V195.00 M157.30,192.00V195.00 M172.30,192.00V195.00 M187.30,192.00V195.00 M132.93,192.00V194.70 M136.05,192.00V194.70 M139.18,192.00V194.70 M146.82,192.00V194.70 M149.46,192.00V194.70 M151.33,192.00V194.70 M152.78,192.00V194.70 M153.97,192.00V194.70 M154.98,192.00V194.70 M155.85,192.00V194.70 M156.61,192.00V194.70 M161.82,192.00V194.70 M164.46,192.00V194.70 M166.33,192.00V194.70 M167.78,192.00V194.70 M168.97,192.00V194.70 M169.98,192.00V194.70 M170.85,192.00V194.70 M171.61,192.00V194.70 M176.82,192.00V194.70 M179.46,192.00V194.70 M181.33,192.00V194.70 M182.78,192.00V194.70 M183.97,192.00V194.70 M184.98,192.00V194.70 M185.85,192.00V194.70 M186.61,192.00V194.70 M191.82,192.00V194.70" stroke="#000" stroke-width="1.1" fill="none"/>
<rect x="128.80" y="127.40" width="64.5" height="64.60" fill="none" stroke="#111" stroke-width="1.5"/>
<line x1="128.80" y1="144.8" x2="189.10" y2="144.8" stroke="#1a1a1a" stroke-width="1.25"/>
<line x1="189.10" y1="143.10000000000002" x2="189.10" y2="146.5" stroke="#1a1a1a" stroke-width="1.0"/>
<circle cx="151.40" cy="144.8" r="1.3" fill="#111"/>
<text x="129.7" y="204.6" font-size="7.0" text-anchor="middle" fill="#222" stroke="#222" stroke-width="0.1">0</text>
<text x="138.00" y="204.6" font-size="7.0" fill="#222">10<tspan font-size="4.4" dy="-2.8">2</tspan></text>
<text x="152.80" y="204.6" font-size="7.0" fill="#222">10<tspan font-size="4.4" dy="-2.8">3</tspan></text>
<text x="168.20" y="204.6" font-size="7.0" fill="#222">10<tspan font-size="4.4" dy="-2.8">4</tspan></text>
<text x="183.10" y="204.6" font-size="7.0" fill="#222">10<tspan font-size="4.4" dy="-2.8">5</tspan></text>
<text x="203.5" y="141.6" font-size="6.3" textLength="13.4" lengthAdjust="spacingAndGlyphs" fill="#222" stroke="#222" stroke-width="0.1">iTreg</text>
<text x="228.2" y="141.29999999999998" font-size="6.3" textLength="25.3" lengthAdjust="spacingAndGlyphs" fill="#222" stroke="#222" stroke-width="0.1">DI= 1.44</text>
<path d="M201.00,190.60 C201.03,190.52 201.03,190.40 201.30,189.80 C201.57,189.20 203.23,186.24 203.70,184.60 C204.17,182.96 205.58,175.36 206.00,173.40 C206.42,171.44 207.62,165.89 207.90,165.00 C208.18,164.11 208.57,164.36 208.80,164.50 C209.03,164.64 209.87,165.42 210.20,166.40 C210.53,167.38 211.68,172.76 212.10,174.30 C212.52,175.84 213.84,180.53 214.40,181.80 C214.96,183.07 216.90,186.20 217.70,187.00 C218.50,187.80 221.56,189.46 222.40,189.80 C223.24,190.14 225.43,190.45 226.10,190.40 C226.77,190.35 228.61,189.64 229.10,189.30 C229.59,188.96 230.62,187.92 231.00,187.00 C231.38,186.08 232.55,180.37 232.90,180.10 C233.25,179.83 234.12,185.79 234.50,184.30 C234.88,182.81 236.29,165.47 236.70,165.20 C237.11,164.93 238.18,181.75 238.60,181.60 C239.02,181.45 240.48,163.70 240.90,163.70 C241.32,163.70 242.42,179.96 242.80,181.60 C243.18,183.24 244.28,179.45 244.70,180.10 C245.12,180.75 246.58,187.37 247.00,188.10 C247.42,188.83 248.52,187.32 248.90,187.40 C249.28,187.48 250.34,188.87 250.80,188.90 C251.26,188.93 252.93,187.59 253.50,187.70 C254.07,187.81 255.82,189.65 256.50,190.00 C257.18,190.35 259.78,191.06 260.30,191.20 C260.82,191.34 261.56,191.38 261.70,191.40 L261.70,191.4 L201.00,191.4 Z" fill="#d9928a" stroke="none"/>
<path d="M201.00,190.60 C201.03,190.52 201.03,190.40 201.30,189.80 C201.57,189.20 203.23,186.24 203.70,184.60 C204.17,182.96 205.58,175.36 206.00,173.40 C206.42,171.44 207.62,165.89 207.90,165.00 C208.18,164.11 208.57,164.36 208.80,164.50 C209.03,164.64 209.87,165.42 210.20,166.40 C210.53,167.38 211.68,172.76 212.10,174.30 C212.52,175.84 213.84,180.53 214.40,181.80 C214.96,183.07 216.90,186.20 217.70,187.00 C218.50,187.80 221.56,189.46 222.40,189.80 C223.24,190.14 225.43,190.45 226.10,190.40 C226.77,190.35 228.61,189.64 229.10,189.30 C229.59,188.96 230.62,187.92 231.00,187.00 C231.38,186.08 232.55,180.37 232.90,180.10 C233.25,179.83 234.12,185.79 234.50,184.30 C234.88,182.81 236.29,165.47 236.70,165.20 C237.11,164.93 238.18,181.75 238.60,181.60 C239.02,181.45 240.48,163.70 240.90,163.70 C241.32,163.70 242.42,179.96 242.80,181.60 C243.18,183.24 244.28,179.45 244.70,180.10 C245.12,180.75 246.58,187.37 247.00,188.10 C247.42,188.83 248.52,187.32 248.90,187.40 C249.28,187.48 250.34,188.87 250.80,188.90 C251.26,188.93 252.93,187.59 253.50,187.70 C254.07,187.81 255.82,189.65 256.50,190.00 C257.18,190.35 259.78,191.06 260.30,191.20 C260.82,191.34 261.56,191.38 261.70,191.40" fill="none" stroke="#8a112d" stroke-width="1.6" stroke-linejoin="round"/>
<path d="M196.20,192.00H199.20 M197.60,187.69H199.20 M197.60,183.39H199.20 M197.60,179.08H199.20 M197.60,174.77H199.20 M196.20,170.47H199.20 M197.60,166.16H199.20 M197.60,161.85H199.20 M197.60,157.55H199.20 M197.60,153.24H199.20 M196.20,148.93H199.20 M197.60,144.63H199.20 M197.60,140.32H199.20 M197.60,136.01H199.20 M197.60,131.71H199.20 M196.20,127.40H199.20 M200.20,192.00V195.00 M212.70,192.00V195.00 M227.70,192.00V195.00 M242.70,192.00V195.00 M257.70,192.00V195.00 M203.33,192.00V194.70 M206.45,192.00V194.70 M209.58,192.00V194.70 M217.22,192.00V194.70 M219.86,192.00V194.70 M221.73,192.00V194.70 M223.18,192.00V194.70 M224.37,192.00V194.70 M225.38,192.00V194.70 M226.25,192.00V194.70 M227.01,192.00V194.70 M232.22,192.00V194.70 M234.86,192.00V194.70 M236.73,192.00V194.70 M238.18,192.00V194.70 M239.37,192.00V194.70 M240.38,192.00V194.70 M241.25,192.00V194.70 M242.01,192.00V194.70 M247.22,192.00V194.70 M249.86,192.00V194.70 M251.73,192.00V194.70 M253.18,192.00V194.70 M254.37,192.00V194.70 M255.38,192.00V194.70 M256.25,192.00V194.70 M257.01,192.00V194.70 M262.22,192.00V194.70" stroke="#000" stroke-width="1.1" fill="none"/>
<rect x="199.20" y="127.40" width="64.5" height="64.60" fill="none" stroke="#111" stroke-width="1.5"/>
<line x1="199.20" y1="144.8" x2="259.50" y2="144.8" stroke="#1a1a1a" stroke-width="1.25"/>
<line x1="259.50" y1="143.10000000000002" x2="259.50" y2="146.5" stroke="#1a1a1a" stroke-width="1.0"/>
<circle cx="221.80" cy="144.8" r="1.3" fill="#111"/>
<text x="200.1" y="204.6" font-size="7.0" text-anchor="middle" fill="#222" stroke="#222" stroke-width="0.1">0</text>
<text x="208.40" y="204.6" font-size="7.0" fill="#222">10<tspan font-size="4.4" dy="-2.8">2</tspan></text>
<text x="223.20" y="204.6" font-size="7.0" fill="#222">10<tspan font-size="4.4" dy="-2.8">3</tspan></text>
<text x="238.60" y="204.6" font-size="7.0" fill="#222">10<tspan font-size="4.4" dy="-2.8">4</tspan></text>
<text x="253.50" y="204.6" font-size="7.0" fill="#222">10<tspan font-size="4.4" dy="-2.8">5</tspan></text>
<text x="273.9" y="141.6" font-size="6.3" textLength="13.4" lengthAdjust="spacingAndGlyphs" fill="#222" stroke="#222" stroke-width="0.1">iTreg</text>
<text x="298.6" y="141.29999999999998" font-size="6.3" textLength="25.3" lengthAdjust="spacingAndGlyphs" fill="#222" stroke="#222" stroke-width="0.1">DI= 1.44</text>
<path d="M271.80,190.80 C272.03,190.37 273.63,187.68 274.10,186.50 C274.57,185.32 276.08,180.22 276.50,179.00 C276.92,177.78 278.03,174.79 278.30,174.30 C278.57,173.81 279.01,174.05 279.20,174.10 C279.39,174.15 279.91,174.31 280.20,174.80 C280.49,175.29 281.68,178.06 282.10,179.00 C282.52,179.94 283.84,183.31 284.40,184.20 C284.96,185.09 286.90,187.30 287.70,187.90 C288.50,188.50 291.51,189.95 292.40,190.20 C293.29,190.45 295.95,190.57 296.60,190.40 C297.25,190.23 298.46,188.77 298.90,188.50 C299.34,188.23 300.59,188.44 301.00,187.70 C301.41,186.96 302.63,181.56 303.00,181.10 C303.37,180.64 304.31,184.72 304.70,183.10 C305.09,181.48 306.49,165.31 306.90,164.90 C307.31,164.49 308.38,179.41 308.80,179.00 C309.22,178.59 310.68,160.68 311.10,160.80 C311.52,160.92 312.59,178.83 313.00,180.20 C313.41,181.57 314.75,173.87 315.20,174.50 C315.65,175.13 317.06,185.55 317.50,186.50 C317.94,187.45 319.18,183.80 319.60,184.00 C320.02,184.20 321.25,188.25 321.70,188.50 C322.15,188.75 323.57,186.37 324.10,186.50 C324.63,186.63 326.33,189.35 327.00,189.80 C327.67,190.25 330.23,190.84 330.80,191.00 C331.37,191.16 332.51,191.36 332.70,191.40 L332.70,191.4 L271.80,191.4 Z" fill="#d9928a" stroke="none"/>
<path d="M271.80,190.80 C272.03,190.37 273.63,187.68 274.10,186.50 C274.57,185.32 276.08,180.22 276.50,179.00 C276.92,177.78 278.03,174.79 278.30,174.30 C278.57,173.81 279.01,174.05 279.20,174.10 C279.39,174.15 279.91,174.31 280.20,174.80 C280.49,175.29 281.68,178.06 282.10,179.00 C282.52,179.94 283.84,183.31 284.40,184.20 C284.96,185.09 286.90,187.30 287.70,187.90 C288.50,188.50 291.51,189.95 292.40,190.20 C293.29,190.45 295.95,190.57 296.60,190.40 C297.25,190.23 298.46,188.77 298.90,188.50 C299.34,188.23 300.59,188.44 301.00,187.70 C301.41,186.96 302.63,181.56 303.00,181.10 C303.37,180.64 304.31,184.72 304.70,183.10 C305.09,181.48 306.49,165.31 306.90,164.90 C307.31,164.49 308.38,179.41 308.80,179.00 C309.22,178.59 310.68,160.68 311.10,160.80 C311.52,160.92 312.59,178.83 313.00,180.20 C313.41,181.57 314.75,173.87 315.20,174.50 C315.65,175.13 317.06,185.55 317.50,186.50 C317.94,187.45 319.18,183.80 319.60,184.00 C320.02,184.20 321.25,188.25 321.70,188.50 C322.15,188.75 323.57,186.37 324.10,186.50 C324.63,186.63 326.33,189.35 327.00,189.80 C327.67,190.25 330.23,190.84 330.80,191.00 C331.37,191.16 332.51,191.36 332.70,191.40" fill="none" stroke="#8a112d" stroke-width="1.6" stroke-linejoin="round"/>
<path d="M266.60,192.00H269.60 M268.00,187.69H269.60 M268.00,183.39H269.60 M268.00,179.08H269.60 M268.00,174.77H269.60 M266.60,170.47H269.60 M268.00,166.16H269.60 M268.00,161.85H269.60 M268.00,157.55H269.60 M268.00,153.24H269.60 M266.60,148.93H269.60 M268.00,144.63H269.60 M268.00,140.32H269.60 M268.00,136.01H269.60 M268.00,131.71H269.60 M266.60,127.40H269.60 M270.60,192.00V195.00 M283.10,192.00V195.00 M298.10,192.00V195.00 M313.10,192.00V195.00 M328.10,192.00V195.00 M273.73,192.00V194.70 M276.85,192.00V194.70 M279.98,192.00V194.70 M287.62,192.00V194.70 M290.26,192.00V194.70 M292.13,192.00V194.70 M293.58,192.00V194.70 M294.77,192.00V194.70 M295.78,192.00V194.70 M296.65,192.00V194.70 M297.41,192.00V194.70 M302.62,192.00V194.70 M305.26,192.00V194.70 M307.13,192.00V194.70 M308.58,192.00V194.70 M309.77,192.00V194.70 M310.78,192.00V194.70 M311.65,192.00V194.70 M312.41,192.00V194.70 M317.62,192.00V194.70 M320.26,192.00V194.70 M322.13,192.00V194.70 M323.58,192.00V194.70 M324.77,192.00V194.70 M325.78,192.00V194.70 M326.65,192.00V194.70 M327.41,192.00V194.70 M332.62,192.00V194.70" stroke="#000" stroke-width="1.1" fill="none"/>
<rect x="269.60" y="127.40" width="64.5" height="64.60" fill="none" stroke="#111" stroke-width="1.5"/>
<line x1="269.60" y1="144.8" x2="329.90" y2="144.8" stroke="#1a1a1a" stroke-width="1.25"/>
<line x1="329.90" y1="143.10000000000002" x2="329.90" y2="146.5" stroke="#1a1a1a" stroke-width="1.0"/>
<circle cx="292.20" cy="144.8" r="1.3" fill="#111"/>
<text x="270.5" y="204.6" font-size="7.0" text-anchor="middle" fill="#222" stroke="#222" stroke-width="0.1">0</text>
<text x="278.80" y="204.6" font-size="7.0" fill="#222">10<tspan font-size="4.4" dy="-2.8">2</tspan></text>
<text x="293.60" y="204.6" font-size="7.0" fill="#222">10<tspan font-size="4.4" dy="-2.8">3</tspan></text>
<text x="309.00" y="204.6" font-size="7.0" fill="#222">10<tspan font-size="4.4" dy="-2.8">4</tspan></text>
<text x="323.90" y="204.6" font-size="7.0" fill="#222">10<tspan font-size="4.4" dy="-2.8">5</tspan></text>
<text x="344.3" y="141.6" font-size="6.3" textLength="13.4" lengthAdjust="spacingAndGlyphs" fill="#222" stroke="#222" stroke-width="0.1">iTreg</text>
<text x="369.0" y="141.29999999999998" font-size="6.3" textLength="25.3" lengthAdjust="spacingAndGlyphs" fill="#222" stroke="#222" stroke-width="0.1">DI= 1.45</text>
<path d="M341.90,190.80 C342.18,190.46 344.19,188.30 344.70,187.40 C345.21,186.50 346.58,182.73 347.00,181.80 C347.42,180.87 348.62,178.47 348.90,178.10 C349.18,177.73 349.57,177.96 349.80,178.10 C350.03,178.24 350.82,178.80 351.20,179.50 C351.58,180.20 353.08,184.26 353.60,185.10 C354.12,185.94 355.70,187.39 356.40,187.90 C357.10,188.41 359.71,189.92 360.60,190.20 C361.49,190.48 364.67,190.69 365.30,190.70 C365.93,190.71 366.46,190.53 366.90,190.30 C367.34,190.07 369.23,188.73 369.70,188.40 C370.17,188.07 371.24,188.08 371.60,187.00 C371.96,185.92 372.97,177.93 373.30,177.60 C373.63,177.27 374.51,185.80 374.90,183.70 C375.29,181.60 376.78,157.25 377.20,156.60 C377.62,155.95 378.68,177.19 379.10,177.20 C379.52,177.21 380.98,156.52 381.40,156.70 C381.82,156.88 382.87,177.24 383.30,179.00 C383.73,180.76 385.23,173.64 385.70,174.30 C386.17,174.96 387.55,184.66 388.00,185.60 C388.45,186.54 389.78,183.42 390.20,183.70 C390.62,183.98 391.79,188.21 392.20,188.40 C392.61,188.59 393.78,185.51 394.30,185.60 C394.82,185.69 396.72,188.79 397.40,189.30 C398.08,189.81 400.57,190.50 401.10,190.70 C401.63,190.90 402.54,191.24 402.70,191.30 L402.70,191.4 L341.90,191.4 Z" fill="#d9928a" stroke="none"/>
<path d="M341.90,190.80 C342.18,190.46 344.19,188.30 344.70,187.40 C345.21,186.50 346.58,182.73 347.00,181.80 C347.42,180.87 348.62,178.47 348.90,178.10 C349.18,177.73 349.57,177.96 349.80,178.10 C350.03,178.24 350.82,178.80 351.20,179.50 C351.58,180.20 353.08,184.26 353.60,185.10 C354.12,185.94 355.70,187.39 356.40,187.90 C357.10,188.41 359.71,189.92 360.60,190.20 C361.49,190.48 364.67,190.69 365.30,190.70 C365.93,190.71 366.46,190.53 366.90,190.30 C367.34,190.07 369.23,188.73 369.70,188.40 C370.17,188.07 371.24,188.08 371.60,187.00 C371.96,185.92 372.97,177.93 373.30,177.60 C373.63,177.27 374.51,185.80 374.90,183.70 C375.29,181.60 376.78,157.25 377.20,156.60 C377.62,155.95 378.68,177.19 379.10,177.20 C379.52,177.21 380.98,156.52 381.40,156.70 C381.82,156.88 382.87,177.24 383.30,179.00 C383.73,180.76 385.23,173.64 385.70,174.30 C386.17,174.96 387.55,184.66 388.00,185.60 C388.45,186.54 389.78,183.42 390.20,183.70 C390.62,183.98 391.79,188.21 392.20,188.40 C392.61,188.59 393.78,185.51 394.30,185.60 C394.82,185.69 396.72,188.79 397.40,189.30 C398.08,189.81 400.57,190.50 401.10,190.70 C401.63,190.90 402.54,191.24 402.70,191.30" fill="none" stroke="#8a112d" stroke-width="1.6" stroke-linejoin="round"/>
<path d="M337.00,192.00H340.00 M338.40,187.69H340.00 M338.40,183.39H340.00 M338.40,179.08H340.00 M338.40,174.77H340.00 M337.00,170.47H340.00 M338.40,166.16H340.00 M338.40,161.85H340.00 M338.40,157.55H340.00 M338.40,153.24H340.00 M337.00,148.93H340.00 M338.40,144.63H340.00 M338.40,140.32H340.00 M338.40,136.01H340.00 M338.40,131.71H340.00 M337.00,127.40H340.00 M341.00,192.00V195.00 M353.50,192.00V195.00 M368.50,192.00V195.00 M383.50,192.00V195.00 M398.50,192.00V195.00 M344.12,192.00V194.70 M347.25,192.00V194.70 M350.38,192.00V194.70 M358.02,192.00V194.70 M360.66,192.00V194.70 M362.53,192.00V194.70 M363.98,192.00V194.70 M365.17,192.00V194.70 M366.18,192.00V194.70 M367.05,192.00V194.70 M367.81,192.00V194.70 M373.02,192.00V194.70 M375.66,192.00V194.70 M377.53,192.00V194.70 M378.98,192.00V194.70 M380.17,192.00V194.70 M381.18,192.00V194.70 M382.05,192.00V194.70 M382.81,192.00V194.70 M388.02,192.00V194.70 M390.66,192.00V194.70 M392.53,192.00V194.70 M393.98,192.00V194.70 M395.17,192.00V194.70 M396.18,192.00V194.70 M397.05,192.00V194.70 M397.81,192.00V194.70 M403.02,192.00V194.70" stroke="#000" stroke-width="1.1" fill="none"/>
<rect x="340.00" y="127.40" width="64.5" height="64.60" fill="none" stroke="#111" stroke-width="1.5"/>
<line x1="340.00" y1="144.8" x2="400.30" y2="144.8" stroke="#1a1a1a" stroke-width="1.25"/>
<line x1="400.30" y1="143.10000000000002" x2="400.30" y2="146.5" stroke="#1a1a1a" stroke-width="1.0"/>
<circle cx="362.60" cy="144.8" r="1.3" fill="#111"/>
<text x="340.9" y="204.6" font-size="7.0" text-anchor="middle" fill="#222" stroke="#222" stroke-width="0.1">0</text>
<text x="349.20" y="204.6" font-size="7.0" fill="#222">10<tspan font-size="4.4" dy="-2.8">2</tspan></text>
<text x="364.00" y="204.6" font-size="7.0" fill="#222">10<tspan font-size="4.4" dy="-2.8">3</tspan></text>
<text x="379.40" y="204.6" font-size="7.0" fill="#222">10<tspan font-size="4.4" dy="-2.8">4</tspan></text>
<text x="394.30" y="204.6" font-size="7.0" fill="#222">10<tspan font-size="4.4" dy="-2.8">5</tspan></text>
<text x="414.7" y="141.6" font-size="6.3" textLength="13.4" lengthAdjust="spacingAndGlyphs" fill="#222" stroke="#222" stroke-width="0.1">iTreg</text>
<text x="439.4" y="141.29999999999998" font-size="6.3" textLength="25.3" lengthAdjust="spacingAndGlyphs" fill="#222" stroke="#222" stroke-width="0.1">DI= 1.69</text>
<path d="M440.40,191.00 C440.59,190.30 442.02,185.60 442.30,184.00 C442.58,182.40 443.03,176.56 443.20,175.00 C443.37,173.44 443.82,168.40 444.00,168.40 C444.18,168.40 444.80,173.65 445.00,175.00 C445.20,176.35 445.79,182.90 446.00,181.90 C446.21,180.90 446.86,170.06 447.10,165.00 C447.34,159.94 448.14,131.30 448.40,131.30 C448.66,131.30 449.48,160.99 449.70,165.00 C449.92,169.01 450.42,172.40 450.60,171.40 C450.78,170.40 451.33,158.03 451.50,155.00 C451.67,151.97 452.09,140.60 452.30,141.10 C452.51,141.60 453.33,156.40 453.60,160.00 C453.87,163.60 454.76,176.10 455.00,177.10 C455.24,178.10 455.81,171.00 456.00,170.00 C456.19,169.00 456.72,166.60 456.90,167.10 C457.08,167.60 457.61,173.30 457.80,175.00 C457.99,176.70 458.50,183.43 458.80,184.10 C459.10,184.77 460.38,181.35 460.80,181.70 C461.22,182.05 462.53,187.30 463.00,187.60 C463.47,187.90 464.97,184.57 465.50,184.70 C466.03,184.83 467.76,188.27 468.30,188.90 C468.84,189.53 470.64,190.79 470.90,191.00 L470.90,191.4 L440.40,191.4 Z" fill="#d9928a" stroke="none"/>
<path d="M440.40,191.00 C440.59,190.30 442.02,185.60 442.30,184.00 C442.58,182.40 443.03,176.56 443.20,175.00 C443.37,173.44 443.82,168.40 444.00,168.40 C444.18,168.40 444.80,173.65 445.00,175.00 C445.20,176.35 445.79,182.90 446.00,181.90 C446.21,180.90 446.86,170.06 447.10,165.00 C447.34,159.94 448.14,131.30 448.40,131.30 C448.66,131.30 449.48,160.99 449.70,165.00 C449.92,169.01 450.42,172.40 450.60,171.40 C450.78,170.40 451.33,158.03 451.50,155.00 C451.67,151.97 452.09,140.60 452.30,141.10 C452.51,141.60 453.33,156.40 453.60,160.00 C453.87,163.60 454.76,176.10 455.00,177.10 C455.24,178.10 455.81,171.00 456.00,170.00 C456.19,169.00 456.72,166.60 456.90,167.10 C457.08,167.60 457.61,173.30 457.80,175.00 C457.99,176.70 458.50,183.43 458.80,184.10 C459.10,184.77 460.38,181.35 460.80,181.70 C461.22,182.05 462.53,187.30 463.00,187.60 C463.47,187.90 464.97,184.57 465.50,184.70 C466.03,184.83 467.76,188.27 468.30,188.90 C468.84,189.53 470.64,190.79 470.90,191.00" fill="none" stroke="#8a112d" stroke-width="1.6" stroke-linejoin="round"/>
<path d="M407.40,192.00H410.40 M408.80,187.69H410.40 M408.80,183.39H410.40 M408.80,179.08H410.40 M408.80,174.77H410.40 M407.40,170.47H410.40 M408.80,166.16H410.40 M408.80,161.85H410.40 M408.80,157.55H410.40 M408.80,153.24H410.40 M407.40,148.93H410.40 M408.80,144.63H410.40 M408.80,140.32H410.40 M408.80,136.01H410.40 M408.80,131.71H410.40 M407.40,127.40H410.40 M411.40,192.00V195.00 M423.90,192.00V195.00 M438.90,192.00V195.00 M453.90,192.00V195.00 M468.90,192.00V195.00 M414.52,192.00V194.70 M417.65,192.00V194.70 M420.77,192.00V194.70 M428.42,192.00V194.70 M431.06,192.00V194.70 M432.93,192.00V194.70 M434.38,192.00V194.70 M435.57,192.00V194.70 M436.58,192.00V194.70 M437.45,192.00V194.70 M438.21,192.00V194.70 M443.42,192.00V194.70 M446.06,192.00V194.70 M447.93,192.00V194.70 M449.38,192.00V194.70 M450.57,192.00V194.70 M451.58,192.00V194.70 M452.45,192.00V194.70 M453.21,192.00V194.70 M458.42,192.00V194.70 M461.06,192.00V194.70 M462.93,192.00V194.70 M464.38,192.00V194.70 M465.57,192.00V194.70 M466.58,192.00V194.70 M467.45,192.00V194.70 M468.21,192.00V194.70 M473.42,192.00V194.70" stroke="#000" stroke-width="1.1" fill="none"/>
<rect x="410.40" y="127.40" width="64.5" height="64.60" fill="none" stroke="#111" stroke-width="1.5"/>
<line x1="410.40" y1="144.8" x2="470.70" y2="144.8" stroke="#1a1a1a" stroke-width="1.25"/>
<line x1="470.70" y1="143.10000000000002" x2="470.70" y2="146.5" stroke="#1a1a1a" stroke-width="1.0"/>
<circle cx="433.00" cy="144.8" r="1.3" fill="#111"/>
<text x="411.3" y="204.6" font-size="7.0" text-anchor="middle" fill="#222" stroke="#222" stroke-width="0.1">0</text>
<text x="419.60" y="204.6" font-size="7.0" fill="#222">10<tspan font-size="4.4" dy="-2.8">2</tspan></text>
<text x="434.40" y="204.6" font-size="7.0" fill="#222">10<tspan font-size="4.4" dy="-2.8">3</tspan></text>
<text x="449.80" y="204.6" font-size="7.0" fill="#222">10<tspan font-size="4.4" dy="-2.8">4</tspan></text>
<text x="464.70" y="204.6" font-size="7.0" fill="#222">10<tspan font-size="4.4" dy="-2.8">5</tspan></text>
<text x="52.8" y="120.5" font-size="7.0" text-anchor="end" fill="#1a1a1a" stroke="#1a1a1a" stroke-width="0.1">0</text>
<text x="52.8" y="99.03" font-size="7.0" text-anchor="end" fill="#1a1a1a" stroke="#1a1a1a" stroke-width="0.1">500</text>
<text x="52.8" y="77.57" font-size="7.0" text-anchor="end" fill="#1a1a1a" stroke="#1a1a1a" stroke-width="0.1">1000</text>
<text x="52.8" y="56.1" font-size="7.0" text-anchor="end" fill="#1a1a1a" stroke="#1a1a1a" stroke-width="0.1">1500</text>
<text x="52.8" y="194.9" font-size="7.0" text-anchor="end" fill="#1a1a1a" stroke="#1a1a1a" stroke-width="0.1">0</text>
<text x="52.8" y="173.37" font-size="7.0" text-anchor="end" fill="#1a1a1a" stroke="#1a1a1a" stroke-width="0.1">500</text>
<text x="52.8" y="151.83" font-size="7.0" text-anchor="end" fill="#1a1a1a" stroke="#1a1a1a" stroke-width="0.1">1000</text>
<text x="52.8" y="130.3" font-size="7.0" text-anchor="end" fill="#1a1a1a" stroke="#1a1a1a" stroke-width="0.1">1500</text>
<text transform="translate(32.4,173) rotate(-90)" font-size="8.0" fill="#111" stroke="#111" stroke-width="0.25" textLength="17.6" lengthAdjust="spacingAndGlyphs">#Cells</text>
<path d="M28.4,213.3 V183 M28.4,213.3 H59" stroke="#000" stroke-width="1.5" fill="none"/>
<path d="M28.4,177.3 L25,184.5 L31.8,184.5 Z" fill="#000"/>
<path d="M65.8,213.3 L58.6,209.9 L58.6,216.7 Z" fill="#000"/>
<text x="69.8" y="216.6" font-size="8.6" textLength="35.0" lengthAdjust="spacingAndGlyphs" fill="#111" stroke="#111" stroke-width="0.3">Violet tracker</text>
<path d="M49,253.3 V422.6 M48.3,421.9 H214" stroke="#111" stroke-width="1.5" fill="none"/>
<path d="M45.4,421.90H49 M45.4,388.90H49 M45.4,355.90H49 M45.4,322.90H49 M45.4,289.90H49 M45.4,256.90H49 M48.90,421.9V425.4 M81.95,421.9V425.4 M115.00,421.9V425.4 M148.05,421.9V425.4 M181.10,421.9V425.4 M214.15,421.9V425.4" stroke="#111" stroke-width="1.1" fill="none"/>
<text x="42.8" y="424.8" font-size="8.0" text-anchor="end" fill="#222" stroke="#222" stroke-width="0.1">0</text>
<text x="42.8" y="391.8" font-size="8.0" text-anchor="end" fill="#222" stroke="#222" stroke-width="0.1">10</text>
<text x="42.8" y="358.8" font-size="8.0" text-anchor="end" fill="#222" stroke="#222" stroke-width="0.1">20</text>
<text x="42.8" y="325.8" font-size="8.0" text-anchor="end" fill="#222" stroke="#222" stroke-width="0.1">30</text>
<text x="42.8" y="292.8" font-size="8.0" text-anchor="end" fill="#222" stroke="#222" stroke-width="0.1">40</text>
<text x="42.8" y="259.8" font-size="8.0" text-anchor="end" fill="#222" stroke="#222" stroke-width="0.1">50</text>
<text x="48.9" y="435.7" font-size="7.8" text-anchor="middle" fill="#222" stroke="#222" stroke-width="0.1">1</text>
<text x="81.95" y="435.7" font-size="7.8" text-anchor="middle" fill="#222" stroke="#222" stroke-width="0.1">2</text>
<text x="115.0" y="435.7" font-size="7.8" text-anchor="middle" fill="#222" stroke="#222" stroke-width="0.1">3</text>
<text x="148.05" y="435.7" font-size="7.8" text-anchor="middle" fill="#222" stroke="#222" stroke-width="0.1">4</text>
<text x="181.1" y="435.7" font-size="7.8" text-anchor="middle" fill="#222" stroke="#222" stroke-width="0.1">5</text>
<text x="214.15" y="435.7" font-size="7.8" text-anchor="middle" fill="#222" stroke="#222" stroke-width="0.1">6</text>
<text x="125.9" y="448.8" font-size="8.8" textLength="15.1" lengthAdjust="spacingAndGlyphs" fill="#1a1a1a" stroke="#1a1a1a" stroke-width="0.3">Ratio</text>
<text transform="translate(27.5,390.2) rotate(-90)" font-size="10.3" fill="#1a1a1a" stroke="#1a1a1a" stroke-width="0.3" textLength="106.2" lengthAdjust="spacingAndGlyphs">% suppression of T cell proliferation</text>
<path d="M48.90,286.40 L81.95,292.90 L115.00,341.80 L148.05,345.60 L181.10,373.40 L214.15,422.00" stroke="#27406f" stroke-width="2.0" fill="none" stroke-linejoin="round"/>
<path d="M48.90,278.70V294.00 M45.60,278.70H52.20 M45.60,294.00H52.20 M81.95,286.40V299.90 M78.65,286.40H85.25 M78.65,299.90H85.25 M115.00,333.60V350.00 M111.70,333.60H118.30 M111.70,350.00H118.30 M148.05,337.20V354.30 M144.75,337.20H151.35 M144.75,354.30H151.35" stroke="#27406f" stroke-width="1.3" fill="none"/>
<path d="M48.90,282.70 L52.60,286.40 L48.90,290.10 L45.20,286.40 Z" fill="#27406f"/>
<path d="M81.95,289.20 L85.65,292.90 L81.95,296.60 L78.25,292.90 Z" fill="#27406f"/>
<path d="M115.00,338.10 L118.70,341.80 L115.00,345.50 L111.30,341.80 Z" fill="#27406f"/>
<path d="M148.05,341.90 L151.75,345.60 L148.05,349.30 L144.35,345.60 Z" fill="#27406f"/>
<path d="M181.10,369.70 L184.80,373.40 L181.10,377.10 L177.40,373.40 Z" fill="#27406f"/>
<path d="M214.15,418.30 L217.85,422.00 L214.15,425.70 L210.45,422.00 Z" fill="#27406f"/>
<path d="M48.90,302.80 L81.95,347.60 L115.00,372.70 L148.05,370.80 L181.10,373.40 L214.15,422.00" stroke="#9c1139" stroke-width="2.0" fill="none" stroke-linejoin="round"/>
<path d="M48.90,292.90V313.20 M45.60,292.90H52.20 M45.60,313.20H52.20 M81.95,339.80V356.80 M78.65,339.80H85.25 M78.65,356.80H85.25 M115.00,364.80V381.60 M111.70,364.80H118.30 M111.70,381.60H118.30 M148.05,364.80V377.50 M144.75,364.80H151.35 M144.75,377.50H151.35 M181.10,364.80V382.80 M177.80,364.80H184.40 M177.80,382.80H184.40" stroke="#9c1139" stroke-width="1.3" fill="none"/>
<path d="M48.90,299.10 L52.60,302.80 L48.90,306.50 L45.20,302.80 Z" fill="#9c1139"/>
<path d="M81.95,343.90 L85.65,347.60 L81.95,351.30 L78.25,347.60 Z" fill="#9c1139"/>
<path d="M115.00,369.00 L118.70,372.70 L115.00,376.40 L111.30,372.70 Z" fill="#9c1139"/>
<path d="M148.05,367.10 L151.75,370.80 L148.05,374.50 L144.35,370.80 Z" fill="#9c1139"/>
<path d="M181.10,369.70 L184.80,373.40 L181.10,377.10 L177.40,373.40 Z" fill="#9c1139"/>
<path d="M214.15,418.30 L217.85,422.00 L214.15,425.70 L210.45,422.00 Z" fill="#9c1139"/>
<line x1="67.8" y1="261.6" x2="86" y2="261.6" stroke="#27406f" stroke-width="1.7"/>
<path d="M77.3,258.50 L80.40,261.6 L77.3,264.70 L74.20,261.6 Z" fill="#27406f"/>
<text x="88.6" y="264.3" font-size="7.8" textLength="47.6" lengthAdjust="spacingAndGlyphs" fill="#2a2a2a">purTGFβ-iTreg</text>
<line x1="67.8" y1="272.7" x2="86" y2="272.7" stroke="#9c1139" stroke-width="1.7"/>
<path d="M77.3,269.60 L80.40,272.7 L77.3,275.80 L74.20,272.7 Z" fill="#9c1139"/>
<text x="88.6" y="275.4" font-size="7.8" textLength="36.8" lengthAdjust="spacingAndGlyphs" fill="#2a2a2a">pltLys-iTreg</text>
<text x="178.2" y="272.4" font-size="7.4" text-anchor="middle" fill="#222" stroke="#222" stroke-width="0.05">iTreg:Teff</text>
<text x="178.2" y="284.0" font-size="7.4" text-anchor="middle" fill="#222" stroke="#222" stroke-width="0.05">1 = 2:1</text>
<text x="178.2" y="295.8" font-size="7.4" text-anchor="middle" fill="#222" stroke="#222" stroke-width="0.05">2 = 1:1</text>
<text x="178.2" y="307.3" font-size="7.4" text-anchor="middle" fill="#222" stroke="#222" stroke-width="0.05">3 = 1:2</text>
<text x="178.2" y="318.9" font-size="7.4" text-anchor="middle" fill="#222" stroke="#222" stroke-width="0.05">4 = 1:4</text>
<text x="178.2" y="330.2" font-size="7.4" text-anchor="middle" fill="#222" stroke="#222" stroke-width="0.05">5 = 1:8</text>
<text x="178.2" y="341.6" font-size="7.4" text-anchor="middle" fill="#222" stroke="#222" stroke-width="0.05">6 = 0:1</text>
<text x="178.2" y="353.1" font-size="7.4" text-anchor="middle" fill="#222" stroke="#222" stroke-width="0.05">N = 6</text>
</svg>
</body></html>
